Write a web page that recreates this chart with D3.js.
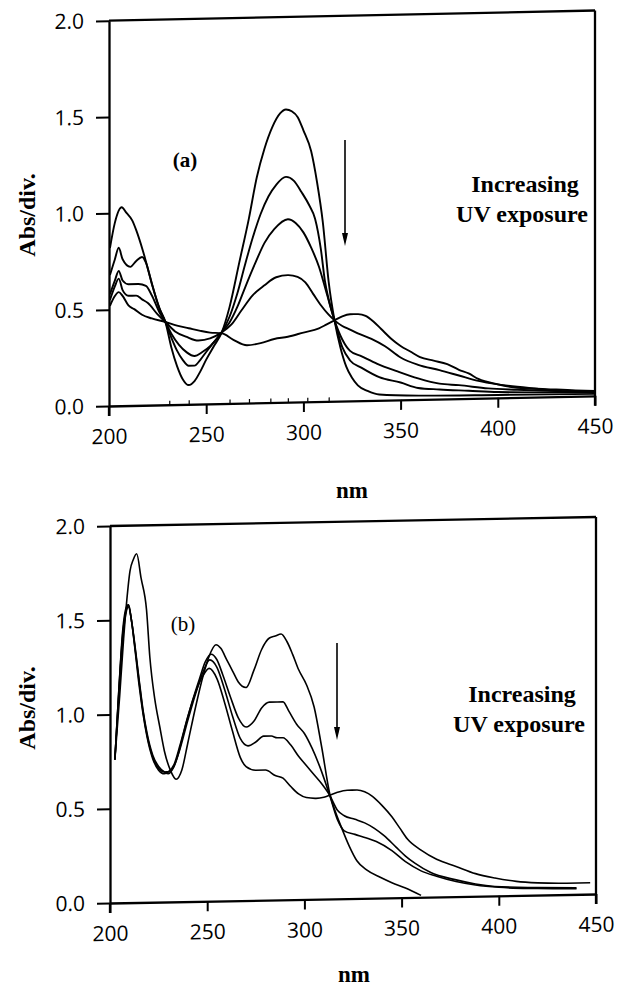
<!DOCTYPE html>
<html>
<head>
<meta charset="utf-8">
<script src="https://cdn.jsdelivr.net/npm/d3@7"></script>
<style>
  html, body { margin: 0; padding: 0; background: #fff; }
  svg { display: block; }
</style>
</head>
<body>
<svg id="chart" width="624" height="994"></svg>
<script>
// ---------- data ----------
const xTicks = [200, 250, 300, 350, 400, 450];
const yTicks = [0, 0.5, 1.0, 1.5, 2.0];
const minorXTicksA = [231, 241, 262, 272, 283, 292, 302, 313];

// Panel (a): five spectra, decreasing 292 nm band with UV exposure
const a1 = [[200.5,0.82],[203,0.95],[206.5,1.03],[209,1.0],[212,0.96],[214,0.91],[217.5,0.80],[221,0.67],[226,0.50],[229,0.43],[232,0.30],[235,0.20],[238,0.13],[241,0.10],[244,0.12],[247,0.17],[250,0.23],[254,0.30],[258,0.37],[262,0.50],[267,0.73],[272,0.96],[276,1.17],[280,1.32],[284,1.43],[288,1.50],[291,1.52],[294,1.51],[297,1.48],[300,1.41],[304,1.30],[307,1.14],[310,0.93],[313,0.62],[316,0.42],[319,0.28],[322,0.18],[325,0.12],[328,0.08],[333,0.05],[339,0.03],[360,0.02],[400,0.015],[450,0.01]];
const a2 = [[200.5,0.68],[203,0.76],[205,0.82],[207,0.76],[211,0.72],[214,0.75],[217,0.77],[219,0.74],[222,0.63],[226,0.50],[229,0.43],[232,0.35],[235,0.28],[238,0.23],[241,0.20],[244,0.20],[247,0.23],[250,0.27],[254,0.32],[258,0.37],[262,0.45],[266,0.57],[270,0.72],[274,0.86],[278,0.98],[282,1.07],[286,1.13],[291,1.17],[295,1.15],[299,1.09],[303,1.02],[306,0.95],[309,0.79],[311,0.63],[313,0.53],[316,0.42],[320,0.28],[324,0.21],[330,0.17],[339,0.12],[350,0.09],[359,0.06],[370,0.05],[385,0.04],[400,0.03],[450,0.02]];
const a3 = [[200.5,0.58],[203,0.65],[205,0.70],[207,0.65],[210,0.63],[215,0.63],[219,0.62],[222,0.57],[226,0.48],[229,0.43],[232,0.37],[236,0.31],[240,0.27],[244,0.25],[248,0.27],[252,0.30],[258,0.37],[262,0.42],[266,0.50],[270,0.60],[275,0.72],[280,0.83],[285,0.90],[292,0.95],[296,0.93],[300,0.88],[304,0.80],[308,0.70],[312,0.56],[316,0.42],[320,0.32],[324,0.26],[330,0.23],[338,0.19],[348,0.15],[359,0.11],[370,0.08],[380,0.07],[395,0.05],[410,0.04],[450,0.02]];
const a4 = [[200.5,0.55],[203,0.62],[205,0.66],[207,0.60],[210,0.57],[214,0.57],[217,0.55],[220,0.53],[225,0.47],[229,0.43],[234,0.38],[240,0.35],[246,0.33],[252,0.34],[258,0.37],[263,0.41],[268,0.48],[274,0.56],[280,0.61],[286,0.65],[292,0.66],[297,0.65],[301,0.62],[305,0.56],[309,0.50],[313,0.45],[316,0.42],[320,0.39],[324,0.37],[328,0.35],[335,0.32],[342,0.28],[350,0.22],[359,0.18],[370,0.15],[380,0.12],[390,0.09],[400,0.07],[415,0.05],[430,0.03],[450,0.02]];
const a5 = [[200.5,0.52],[203,0.57],[205,0.59],[207,0.57],[210,0.52],[213,0.50],[217,0.47],[222,0.45],[229,0.43],[235,0.41],[241,0.395],[247,0.38],[252,0.37],[258,0.365],[264,0.33],[271,0.30],[278,0.31],[285,0.33],[292,0.34],[300,0.36],[308,0.38],[312,0.40],[316,0.42],[320,0.44],[324,0.45],[328,0.45],[332,0.44],[336,0.41],[340,0.37],[345,0.32],[350,0.28],[355,0.25],[360,0.22],[367,0.20],[374,0.18],[380,0.15],[385,0.13],[390,0.10],[400,0.07],[410,0.05],[425,0.04],[440,0.03],[450,0.025]];

// Panel (b): four spectra
const b1 = [[202.5,0.76],[205,1.10],[207,1.40],[208.6,1.60],[210.3,1.76],[212,1.82],[213.7,1.85],[216,1.72],[218.8,1.55],[220.5,1.30],[223,1.08],[225.6,0.93],[228,0.80],[231,0.70],[234,0.65],[237,0.70],[240,0.84],[244,1.03],[248,1.20],[251,1.30],[254.5,1.36],[257,1.34],[260,1.28],[263,1.22],[266,1.16],[270,1.13],[274,1.22],[278,1.33],[282,1.39],[285,1.40],[288,1.41],[291,1.37],[294,1.30],[297,1.22],[301,1.14],[305,1.02],[309,0.80],[313,0.56],[316,0.46],[319,0.38],[323,0.28],[327,0.20],[332,0.15],[339,0.11],[345,0.08],[352,0.05],[360,0.01]];
const b2 = [[202.5,0.76],[204.5,1.10],[206.5,1.40],[208.5,1.55],[209.5,1.57],[211,1.50],[213,1.35],[215,1.18],[217,1.02],[219,0.90],[222,0.78],[225,0.72],[228,0.69],[230,0.68],[232,0.70],[235,0.78],[238,0.90],[242,1.05],[246,1.18],[249,1.27],[252,1.31],[255,1.28],[258,1.20],[262,1.08],[266,0.97],[270,0.92],[274,0.95],[278,1.02],[282,1.05],[286,1.05],[289,1.05],[292,1.00],[296,0.93],[300,0.88],[304,0.80],[308,0.70],[313,0.55],[317,0.42],[320.5,0.36],[326,0.34],[332,0.32],[337,0.30],[345,0.25],[352,0.19],[360,0.14],[368,0.11],[378,0.08],[388,0.06],[400,0.045],[420,0.035],[440,0.03]];
const b3 = [[202.5,0.76],[204.5,1.12],[206.5,1.42],[208.5,1.56],[209.5,1.58],[211,1.50],[213,1.34],[215,1.17],[217,1.01],[219,0.89],[222,0.77],[225,0.71],[228,0.69],[230,0.69],[233,0.72],[236,0.81],[240,0.96],[244,1.10],[248,1.22],[251.3,1.28],[255,1.24],[259,1.12],[263,0.98],[267,0.86],[271,0.82],[275,0.84],[279,0.87],[283,0.87],[286,0.86],[289,0.86],[293,0.82],[297,0.76],[301,0.71],[305,0.66],[309,0.61],[313,0.55],[317,0.47],[320.5,0.44],[326,0.42],[331,0.40],[336,0.37],[341,0.33],[347,0.27],[352,0.22],[357,0.18],[365,0.13],[377.5,0.09],[388,0.065],[398,0.05],[420,0.04],[440,0.035]];
const b4 = [[202.5,0.76],[204.5,1.12],[206.5,1.44],[208.5,1.57],[209.5,1.58],[211,1.50],[213,1.33],[215,1.15],[217,1.00],[219,0.88],[222,0.76],[225,0.70],[228,0.68],[230,0.69],[233,0.73],[236,0.83],[240,0.98],[244,1.11],[248,1.20],[251,1.235],[255,1.18],[259,1.05],[263,0.90],[267,0.76],[270,0.71],[275,0.69],[280,0.69],[285,0.66],[289,0.645],[293,0.60],[297,0.56],[301,0.54],[306,0.535],[310,0.54],[313,0.55],[317,0.565],[322,0.575],[327,0.575],[331,0.565],[335,0.54],[340,0.49],[345,0.43],[349,0.37],[353,0.31],[360,0.25],[368,0.20],[378,0.16],[388,0.12],[398,0.095],[409,0.075],[420,0.065],[435,0.06],[447,0.06]];

const panelA = [a1, a2, a3, a4, a5];
const panelB = [b1, b2, b3, b4];

// ---------- drawing ----------
const svg = d3.select("#chart");
const tickFont = "'Open Sans', 'DejaVu Sans', sans-serif";
const serif = "'Liberation Serif', 'DejaVu Serif', serif";

function panel(series, box, labelText, labelBold, ann, minorX) {
  const w = box.right - box.left, h = box.bottom - box.top;
  const x = d3.scaleLinear().domain([200, 450]).range([0, w]);
  const y = d3.scaleLinear().domain([0, 2]).range([h, 0]);
  const g = svg.append("g")
    .attr("transform", `translate(${box.left},${box.top}) matrix(1,${box.skew},0,1,0,0)`);

  // y axis
  const ya = g.append("g").call(d3.axisLeft(y).tickValues(yTicks)
      .tickFormat(d3.format(".1f")).tickSize(13).tickSizeOuter(0).tickPadding(12));
  // x axis
  const xa = g.append("g").attr("transform", `translate(0,${h})`)
    .call(d3.axisBottom(x).tickValues(xTicks).tickFormat(d3.format("d"))
      .tickSize(10).tickSizeOuter(0).tickPadding(13));
  [ya, xa].forEach(a => {
    a.select(".domain").attr("stroke", "#000").attr("stroke-width", 2.3);
    a.selectAll(".tick line").attr("stroke", "#000").attr("stroke-width", 2);
    a.selectAll(".tick text").attr("fill", "#000")
      .style("font-family", tickFont).style("font-size", "21px");
  });
  // small inward minor ticks
  if (minorX) {
    g.append("g").attr("transform", `translate(0,${h})`)
      .call(d3.axisTop(x).tickValues(minorX).tickSize(4).tickSizeOuter(0).tickFormat(""))
      .call(s => s.select(".domain").remove())
      .selectAll(".tick line").attr("stroke", "#000").attr("stroke-width", 1.2);
  }
  // extend left axis below x-axis, top & right borders
  g.append("line").attr("x1", 0).attr("x2", 0).attr("y1", h).attr("y2", h + 10)
    .attr("stroke", "#000").attr("stroke-width", 2.3);
  g.append("line").attr("x1", 0).attr("x2", w).attr("y1", 0).attr("y2", 0)
    .attr("stroke", "#000").attr("stroke-width", 2.3);
  g.append("line").attr("x1", w).attr("x2", w).attr("y1", 0).attr("y2", h + 10)
    .attr("stroke", "#000").attr("stroke-width", 2.3);

  const line = d3.line().x(d => x(d[0])).y(d => y(d[1])).curve(d3.curveMonotoneX);
  g.selectAll("path.spec").data(series).enter().append("path")
    .attr("class", "spec")
    .attr("d", line)
    .attr("fill", "none")
    .attr("stroke", "#000")
    .attr("stroke-width", box.lw)
    .attr("stroke-linejoin", "round");

  // annotations (absolute coordinates)
  const t = svg.append("g").style("font-family", serif).attr("fill", "#000");
  t.append("text").attr("x", ann.lab[0]).attr("y", ann.lab[1]).attr("text-anchor", "middle")
    .style("font-size", "21px").style("font-weight", labelBold ? "bold" : "normal").text(labelText);
  t.append("text").attr("x", ann.inc[0]).attr("y", ann.inc[1]).attr("text-anchor", "middle")
    .style("font-size", "24px").style("font-weight", "bold").text("Increasing");
  t.append("text").attr("x", ann.inc[0] - 3).attr("y", ann.inc[1] + 30).attr("text-anchor", "middle")
    .style("font-size", "24px").style("font-weight", "bold").text("UV exposure");
  // arrow
  t.append("line").attr("x1", ann.arr[0]).attr("x2", ann.arr[0])
    .attr("y1", ann.arr[1]).attr("y2", ann.arr[2] - 8)
    .attr("stroke", "#000").attr("stroke-width", 1.6);
  t.append("path")
    .attr("d", `M${ann.arr[0] - 3},${ann.arr[2] - 13} L${ann.arr[0] + 3},${ann.arr[2] - 13} L${ann.arr[0]},${ann.arr[2]} Z`)
    .attr("fill", "#000");
  // axis titles
  t.append("text").attr("transform", `translate(${ann.ytitle[0]},${ann.ytitle[1]}) rotate(-90)`)
    .attr("text-anchor", "middle").style("font-size", "24px").style("font-weight", "bold")
    .text("Abs/div.");
  t.append("text").attr("x", ann.xtitle[0]).attr("y", ann.xtitle[1]).attr("text-anchor", "middle")
    .style("font-size", "23px").style("font-weight", "bold").text("nm");
}

panel(panelA,
  { left: 109, right: 595, top: 20.7, bottom: 406, skew: -0.021, lw: 1.9 },
  "(a)", true,
  { lab: [185, 167], inc: [525, 192], arr: [345, 140, 246], ytitle: [35, 215], xtitle: [352, 498] },
  minorXTicksA);

panel(panelB,
  { left: 110, right: 596, top: 526, bottom: 903, skew: -0.0185, lw: 1.6 },
  "(b)", false,
  { lab: [183, 631], inc: [522, 702], arr: [337, 643, 740], ytitle: [35, 708], xtitle: [354, 982] },
  null);
</script>
</body>
</html>
